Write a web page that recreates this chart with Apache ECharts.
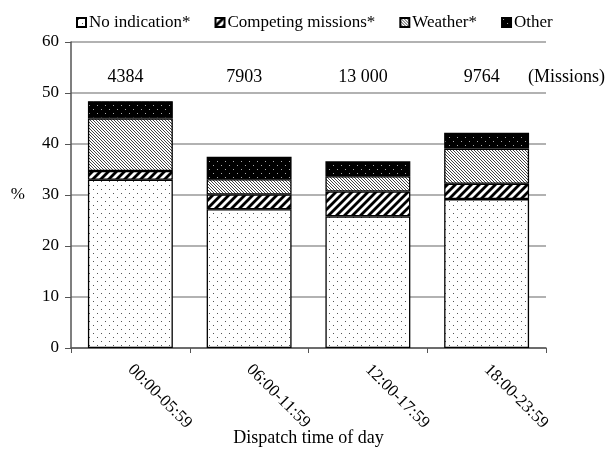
<!DOCTYPE html>
<html><head><meta charset="utf-8">
<script src="https://cdn.jsdelivr.net/npm/echarts@6/dist/echarts.min.js"></script>
<style>html,body{margin:0;padding:0;background:#fff}#c{width:614px;height:452px}</style>
</head><body><div id="c"></div>
<script>
const categories = ['00:00-05:59', '06:00-11:59', '12:00-17:59', '18:00-23:59'];
const missions = ['4384', '7903', '13 000', '9764'];
const noIndication = [33.0, 27.2, 25.8, 29.2];
const competing = [1.7, 2.9, 4.9, 3.0];
const weather = [10.3, 3.0, 3.0, 6.9];
const other = [3.4, 4.4, 2.9, 3.1];
const seriesNames = ['No indication*', 'Competing missions*', 'Weather*', 'Other'];
const yTicks = [0, 10, 20, 30, 40, 50, 60];

function makePattern(kind) {
  const c = document.createElement('canvas');
  const ctx = c.getContext('2d');
  if (kind === 'dots') {
    c.width = 8; c.height = 8;
    ctx.fillStyle = '#fff'; ctx.fillRect(0, 0, 8, 8);
    ctx.fillStyle = '#555';
    ctx.fillRect(1, 1, 1, 1); ctx.fillRect(5, 5, 1, 1);
  } else if (kind === 'stripes') {
    c.width = 8; c.height = 8;
    ctx.fillStyle = '#fff'; ctx.fillRect(0, 0, 8, 8);
    ctx.strokeStyle = '#000'; ctx.lineWidth = 2.8;
    for (let k = -1; k <= 1; k++) {
      ctx.beginPath(); ctx.moveTo(k * 8 - 1, 9); ctx.lineTo(k * 8 + 9, -1); ctx.stroke();
    }
  } else if (kind === 'hatch') {
    c.width = 3; c.height = 3;
    ctx.fillStyle = '#fff'; ctx.fillRect(0, 0, 3, 3);
    ctx.strokeStyle = '#444'; ctx.lineWidth = 1;
    for (let k = -1; k <= 1; k++) {
      ctx.beginPath(); ctx.moveTo(k * 3 - 1, -1); ctx.lineTo(k * 3 + 4, 4); ctx.stroke();
    }
  } else {
    c.width = 8; c.height = 8;
    ctx.fillStyle = '#000'; ctx.fillRect(0, 0, 8, 8);
    ctx.fillStyle = '#aaa';
    ctx.fillRect(1, 1, 1, 1); ctx.fillRect(5, 5, 1, 1);
  }
  return { image: c, repeat: 'repeat' };
}

const patterns = [makePattern('dots'), makePattern('stripes'), makePattern('hatch'), makePattern('black')];
const values = [noIndication, competing, weather, other];
const font = '"Liberation Serif", "Times New Roman", serif';

const chart = echarts.init(document.getElementById('c'));
const series = values.map((v, i) => ({
  name: seriesNames[i],
  type: 'bar',
  stack: 'total',
  barWidth: '71.5%',
  data: v,
  itemStyle: { color: patterns[i], borderColor: '#000', borderWidth: 1.3 },
  emphasis: { disabled: true }
}));
series.push({
  name: 'missions',
  type: 'scatter',
  symbolSize: 0,
  itemStyle: { opacity: 1 },
  data: missions.map(() => 53.1),
  label: {
    show: true, position: 'inside', offset: [-5, 0],
    formatter: p => missions[p.dataIndex],
    fontFamily: font, fontSize: 18, color: '#000', opacity: 1
  },
  silent: true
});

chart.setOption({
  animation: false,
  backgroundColor: '#fff',
  textStyle: { fontFamily: font },
  legend: {
    data: seriesNames,
    top: 9, left: 71,
    itemWidth: 9, itemHeight: 9, itemGap: 24,
    icon: 'rect',
    textStyle: { fontFamily: font, fontSize: 17, color: '#000', padding: [0, 0, 0, -2] }
  },
  grid: { left: 71, right: 68, top: 42, bottom: 104, containLabel: false, outerBoundsMode: 'none' },
  xAxis: {
    type: 'category',
    data: categories,
    name: 'Dispatch time of day',
    nameLocation: 'middle',
    nameGap: 81,
    nameMoveOverlap: false,
    nameTextStyle: { fontFamily: font, fontSize: 18, color: '#000' },
    axisLine: { lineStyle: { color: '#555', width: 1.5 } },
    axisTick: { show: true, length: 5, lineStyle: { color: '#555' } },
    axisLabel: { rotate: -45, margin: 19, fontFamily: font, fontSize: 17, color: '#000' }
  },
  yAxis: {
    type: 'value',
    min: 0, max: 60, interval: 10,
    name: '%',
    nameLocation: 'middle',
    nameRotate: 0,
    nameGap: 46,
    nameMoveOverlap: false,
    nameTextStyle: { fontFamily: font, fontSize: 17, color: '#000' },
    axisLine: { show: true, lineStyle: { color: '#555', width: 1.5 } },
    axisTick: { show: true, length: 6, lineStyle: { color: '#555' } },
    axisLabel: { margin: 12, fontFamily: font, fontSize: 17, color: '#000',
      formatter: v => yTicks.includes(v) ? String(v) : '' },
    splitLine: { lineStyle: { color: '#999', width: 1.5 } }
  },
  graphic: [{
    type: 'text', left: 528, top: 68,
    style: { text: '(Missions)', font: '18px "Liberation Serif"', fill: '#000' }
  }],
  series: series
});
</script></body></html>
